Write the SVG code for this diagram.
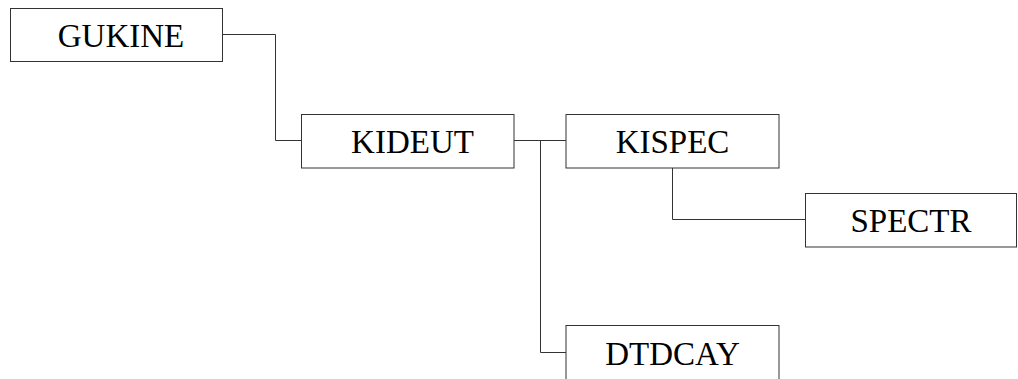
<svg xmlns="http://www.w3.org/2000/svg" width="1018" height="379" viewBox="0 0 1018 379">
  <style>
    .box { fill: #ffffff; stroke: #333333; stroke-width: 1; }
    .lbl { font-family: "Liberation Serif", "DejaVu Serif", serif; font-size: 33px; fill: #000000; text-anchor: middle; }
    .wire { fill: none; stroke: #333333; stroke-width: 1; }
  </style>
  <rect width="1018" height="379" fill="#ffffff"/>

  <g id="connectors">
    <polyline class="wire" points="222.5,34.5 275.5,34.5 275.5,140.5 301.5,140.5"/>
    <polyline class="wire" points="514,140.5 566,140.5"/>
    <polyline class="wire" points="540.5,140.5 540.5,352.5 566,352.5"/>
    <polyline class="wire" points="672.5,168 672.5,219.5 805,219.5"/>
  </g>

  <g id="GUKINE">
    <rect class="box" x="10.5" y="8.5" width="212" height="53"/>
    <text class="lbl" x="121" y="46.5">GUKINE</text>
  </g>

  <g id="KIDEUT">
    <rect class="box" x="301.5" y="114.5" width="212.5" height="53.5"/>
    <text class="lbl" x="412.5" y="152.5">KIDEUT</text>
  </g>

  <g id="KISPEC">
    <rect class="box" x="566" y="114.5" width="213" height="53.5"/>
    <text class="lbl" x="672.5" y="152.5">KISPEC</text>
  </g>

  <g id="SPECTR">
    <rect class="box" x="805.5" y="193.5" width="211" height="53.5"/>
    <text class="lbl" x="911" y="231.5">SPECTR</text>
  </g>

  <g id="DTDCAY">
    <rect class="box" x="566" y="325.5" width="213" height="56"/>
    <text class="lbl" x="672.5" y="365">DTDCAY</text>
  </g>
</svg>
